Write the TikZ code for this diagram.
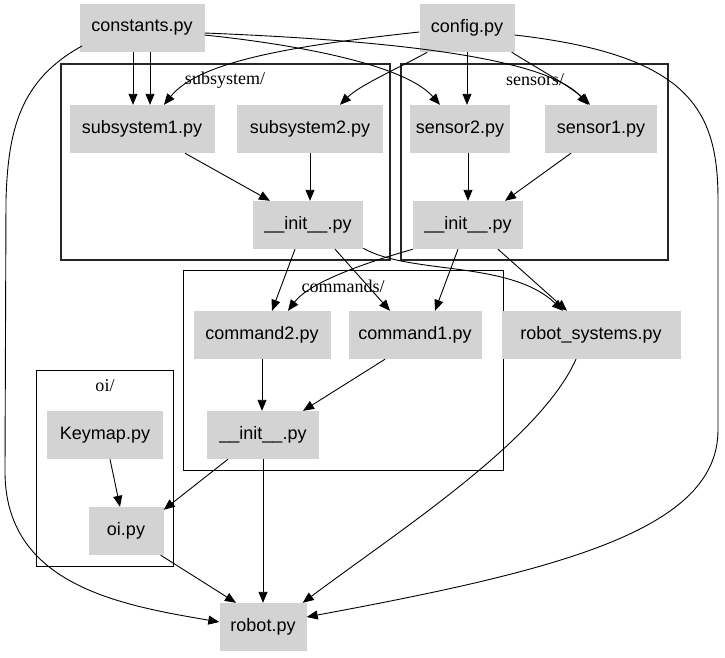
\documentclass[tikz,border=0pt]{standalone}
\usepackage{fontspec}
\setmainfont{Liberation Serif}
\newfontfamily\nodefont{Liberation Sans}
\usetikzlibrary{arrows.meta}
\definecolor{boxgray}{RGB}{211,211,211}
\begin{document}
\begin{tikzpicture}[x=1pt,y=-1pt,
  file/.style={fill=boxgray, inner sep=0pt, minimum height=48pt,
    font=\nodefont\fontsize{18}{20}\selectfont},
  cluster/.style={draw=black, line width=1pt},
  clabel/.style={font=\fontsize{18}{20}\selectfont, inner sep=0pt},
  arr/.style={-{Triangle[length=11pt,width=9pt]}, line width=0.9pt},
]
\useasboundingbox (0,0) rectangle (725,657);

% package clusters
\draw[cluster, line width=1.2pt, draw=black!85] (61,64) rectangle (390,260);
\node[clabel] (lsub) at (225,80) {subsystem/};
\draw[cluster, line width=1.2pt, draw=black!85] (401,64) rectangle (668,260);
\node[clabel] (lsen) at (535,80) {sensors/};
\draw[cluster] (183,270) rectangle (503,470);
\node[clabel] (lcmd) at (343,286) {commands/};
\draw[cluster] (36,370) rectangle (173,566);
\node[clabel] (loi) at (105,386) {oi/};

% modules
\node[file, minimum width=125pt] (cst)   at (142,28)  {constants.py};
\node[file, minimum width=95pt]  (cfg)   at (467,28)  {config.py};
\node[file, minimum width=145pt] (sub1)  at (142,129) {subsystem1.py};
\node[file, minimum width=146pt] (sub2)  at (310,129) {subsystem2.py};
\node[file, minimum width=100pt] (sen2)  at (460,129) {sensor2.py};
\node[file, minimum width=112pt] (sen1)  at (601,129) {sensor1.py};
\node[file, minimum width=110pt] (subi)  at (308,225) {\_\_init\_\_.py};
\node[file, minimum width=110pt] (seni)  at (468,225) {\_\_init\_\_.py};
\node[file, minimum width=137pt] (cmd2)  at (262,335) {command2.py};
\node[file, minimum width=133pt] (cmd1)  at (415,335) {command1.py};
\node[file, minimum width=179pt] (rsys)  at (591,335) {robot\_systems.py};
\node[file, minimum width=112pt] (cmdi)  at (263,435) {\_\_init\_\_.py};
\node[file, minimum width=116pt] (key)   at (105,435) {Keymap.py};
\node[file, minimum width=75pt]  (oi)    at (126,531) {oi.py};
\node[file, minimum width=87pt]  (robot) at (263,627) {robot.py};

% imports of constants.py
\draw[arr] ([xshift=-9pt]cst.south) -- ([xshift=-9pt]sub1.north);
\draw[arr] ([xshift=8pt]cst.south) -- ([xshift=8pt]sub1.north);
\draw[arr] ([yshift=-7pt]cst.east) .. controls (300,45) and (405,65) .. ([xshift=-20pt]sen2.north);
\draw[arr] ([yshift=-5pt]cst.east) .. controls (380,40) and (545,56) .. ([xshift=-13pt]sen1.north);
\draw[arr] ([xshift=-60pt,yshift=-18pt]cst.center) .. controls (20,80) and (8,130) .. (6,200)
  -- (5,470) .. controls (4,585) and (120,605) .. ([yshift=5pt]robot.west);

% imports of config.py
\draw[arr] ([yshift=-4pt]cfg.west) .. controls (300,45) and (200,60) .. ([xshift=22pt]sub1.north);
\draw[arr] ([xshift=8pt]cfg.south west) .. controls (395,70) and (360,85) .. ([xshift=30pt]sub2.north);
\draw[arr] (cfg.south) -- (cfg.south |- sen2.north);
\draw[arr] ([xshift=-3pt]cfg.south east) .. controls (540,70) and (570,86) .. ([xshift=-11pt]sen1.north);
\draw[arr] ([yshift=-7pt]cfg.east) .. controls (690,55) and (718,110) .. (718,200)
  -- (718,430) .. controls (718,530) and (560,570) .. ([yshift=10pt]robot.east);

% subsystem package
\draw[arr] ([xshift=43pt]sub1.south) -- ([xshift=-38pt]subi.north);
\draw[arr] (sub2.south) -- (sub2.south |- subi.north);

% sensors package
\draw[arr] (sen2.south -| seni.north) -- (seni.north);
\draw[arr] ([xshift=-30pt]sen1.south) -- ([xshift=37pt]seni.north);

% package inits to commands and robot_systems
\draw[arr] ([xshift=-13pt]subi.south) -- ([xshift=10pt]cmd2.north);
\draw[arr] ([xshift=27pt]subi.south) -- ([xshift=-25pt]cmd1.north);
\draw[arr] ([yshift=1pt]subi.south east) .. controls (410,275) and (510,260) .. ([xshift=-28pt]rsys.north);
\draw[arr] (seni.south west) .. controls (340,270) and (305,288) .. ([xshift=26pt]cmd2.north);
\draw[arr] ([xshift=-10pt]seni.south) -- ([xshift=20pt]cmd1.north);
\draw[arr] ([xshift=30pt]seni.south) -- ([xshift=-24pt]rsys.north);

% commands package
\draw[arr] (cmd2.south) -- (cmd2.south |- cmdi.north);
\draw[arr] ([xshift=-30pt]cmd1.south) -- ([xshift=40pt]cmdi.north);
\draw[arr] ([xshift=-35pt]cmdi.south) -- ([yshift=-3pt]oi.north east);
\draw[arr] (cmdi.south) -- (robot.north);

% oi package
\draw[arr] ([xshift=5pt]key.south) -- ([xshift=-6pt]oi.north);
\draw[arr] ([xshift=-3pt]oi.south east) -- ([xshift=-27pt]robot.north);

% robot_systems.py
\draw[arr] ([xshift=-15pt]rsys.south) .. controls (540,440) and (400,530) .. ([xshift=-4pt]robot.north east);
\end{tikzpicture}
\end{document}
